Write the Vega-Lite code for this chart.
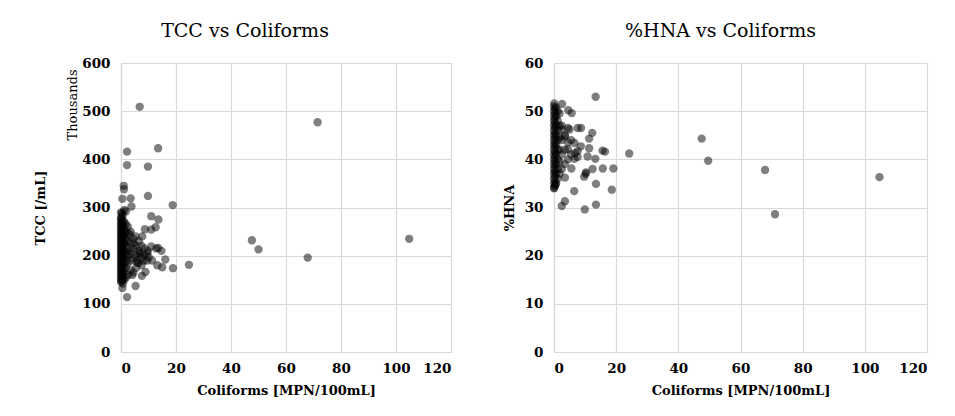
{
  "$schema": "https://vega.github.io/schema/vega-lite/v6.json",
  "padding": {"left": 34, "top": 22, "right": 5, "bottom": 5},
  "background": "white",
  "spacing": 52,
  "config": {
    "view": {"stroke": null},
    "font": "DejaVu Serif",
    "title": {"font": "DejaVu Serif", "fontSize": 19, "fontWeight": "normal", "color": "#000000"},
    "axis": {
      "grid": true,
      "gridColor": "#d9d9d9",
      "gridWidth": 1.2,
      "domainColor": "#d9d9d9",
      "domainWidth": 1.2,
      "ticks": false,
      "tickSize": 0,
      "labelFont": "DejaVu Serif",
      "labelFontWeight": "bold",
      "labelFontSize": 13.5,
      "labelColor": "#000000",
      "titleFont": "DejaVu Serif",
      "titleFontWeight": "bold",
      "titleFontSize": 13,
      "titleColor": "#000000"
    },
    "axisX": {"labelPadding": 9, "titlePadding": 10},
    "axisY": {"labelPadding": 11}
  },
  "datasets": {
    "tcc": [
      {"coliforms": 6.8, "tcc": 509}, {"coliforms": 71.5, "tcc": 477}, {"coliforms": 2.2, "tcc": 416}, {"coliforms": 13.5, "tcc": 423},
      {"coliforms": 2.2, "tcc": 388}, {"coliforms": 9.8, "tcc": 385}, {"coliforms": 1.0, "tcc": 345}, {"coliforms": 1.1, "tcc": 338},
      {"coliforms": 0.5, "tcc": 318}, {"coliforms": 3.5, "tcc": 319}, {"coliforms": 3.8, "tcc": 302}, {"coliforms": 9.8, "tcc": 324},
      {"coliforms": 18.8, "tcc": 305}, {"coliforms": 11.0, "tcc": 282}, {"coliforms": 13.6, "tcc": 275}, {"coliforms": 8.7, "tcc": 255},
      {"coliforms": 12.6, "tcc": 259}, {"coliforms": 11.0, "tcc": 254}, {"coliforms": 7.7, "tcc": 240}, {"coliforms": 47.6, "tcc": 232},
      {"coliforms": 104.8, "tcc": 235}, {"coliforms": 50.0, "tcc": 213}, {"coliforms": 67.9, "tcc": 196}, {"coliforms": 24.7, "tcc": 181},
      {"coliforms": 18.9, "tcc": 174}, {"coliforms": 16.1, "tcc": 192}, {"coliforms": 15.0, "tcc": 176}, {"coliforms": 13.2, "tcc": 180},
      {"coliforms": 14.7, "tcc": 210}, {"coliforms": 13.5, "tcc": 216}, {"coliforms": 12.8, "tcc": 215}, {"coliforms": 9.8, "tcc": 210},
      {"coliforms": 11.0, "tcc": 219}, {"coliforms": 7.6, "tcc": 158}, {"coliforms": 8.9, "tcc": 166}, {"coliforms": 5.3, "tcc": 137},
      {"coliforms": 4.1, "tcc": 160}, {"coliforms": 2.2, "tcc": 114}, {"coliforms": 0.5, "tcc": 133}, {"coliforms": 5.8, "tcc": 185},
      {"coliforms": 3.5, "tcc": 204}, {"coliforms": 5.3, "tcc": 240}, {"coliforms": 3.3, "tcc": 244}, {"coliforms": 4.6, "tcc": 225},
      {"coliforms": 7.1, "tcc": 205}, {"coliforms": 8.3, "tcc": 190}, {"coliforms": 10.1, "tcc": 197}, {"coliforms": 11.3, "tcc": 190},
      {"coliforms": 5.8, "tcc": 190},
      {"coliforms": 0, "tcc": 145}, {"coliforms": 0, "tcc": 150}, {"coliforms": 0, "tcc": 155}, {"coliforms": 0, "tcc": 160},
      {"coliforms": 0, "tcc": 165}, {"coliforms": 0, "tcc": 170}, {"coliforms": 0, "tcc": 175}, {"coliforms": 0, "tcc": 180},
      {"coliforms": 0, "tcc": 185}, {"coliforms": 0, "tcc": 190}, {"coliforms": 0, "tcc": 195}, {"coliforms": 0, "tcc": 200},
      {"coliforms": 0, "tcc": 205}, {"coliforms": 0, "tcc": 210}, {"coliforms": 0, "tcc": 215}, {"coliforms": 0, "tcc": 220},
      {"coliforms": 0, "tcc": 225}, {"coliforms": 0, "tcc": 230}, {"coliforms": 0, "tcc": 235}, {"coliforms": 0, "tcc": 240},
      {"coliforms": 0, "tcc": 245}, {"coliforms": 0, "tcc": 250}, {"coliforms": 0, "tcc": 255}, {"coliforms": 0, "tcc": 260},
      {"coliforms": 0, "tcc": 265}, {"coliforms": 0, "tcc": 270}, {"coliforms": 0, "tcc": 275}, {"coliforms": 0, "tcc": 280},
      {"coliforms": 0, "tcc": 290},
      {"coliforms": 0.3, "tcc": 148}, {"coliforms": 0.3, "tcc": 158}, {"coliforms": 0.3, "tcc": 168}, {"coliforms": 0.3, "tcc": 178},
      {"coliforms": 0.3, "tcc": 188}, {"coliforms": 0.3, "tcc": 198}, {"coliforms": 0.3, "tcc": 208}, {"coliforms": 0.3, "tcc": 218},
      {"coliforms": 0.3, "tcc": 228}, {"coliforms": 0.3, "tcc": 238}, {"coliforms": 0.3, "tcc": 248}, {"coliforms": 0.3, "tcc": 258},
      {"coliforms": 0.3, "tcc": 268}, {"coliforms": 0.3, "tcc": 278}, {"coliforms": 0.3, "tcc": 288},
      {"coliforms": 0.7, "tcc": 142}, {"coliforms": 0.7, "tcc": 152}, {"coliforms": 0.7, "tcc": 162}, {"coliforms": 0.7, "tcc": 172},
      {"coliforms": 0.7, "tcc": 182}, {"coliforms": 0.7, "tcc": 192}, {"coliforms": 0.7, "tcc": 202}, {"coliforms": 0.7, "tcc": 212},
      {"coliforms": 0.7, "tcc": 222}, {"coliforms": 0.7, "tcc": 232}, {"coliforms": 0.7, "tcc": 242}, {"coliforms": 0.7, "tcc": 252},
      {"coliforms": 0.7, "tcc": 262}, {"coliforms": 0.7, "tcc": 272}, {"coliforms": 0.7, "tcc": 285},
      {"coliforms": 1.2, "tcc": 150}, {"coliforms": 1.2, "tcc": 165}, {"coliforms": 1.2, "tcc": 180}, {"coliforms": 1.2, "tcc": 195},
      {"coliforms": 1.2, "tcc": 210}, {"coliforms": 1.2, "tcc": 225}, {"coliforms": 1.2, "tcc": 240}, {"coliforms": 1.2, "tcc": 255},
      {"coliforms": 1.2, "tcc": 270}, {"coliforms": 1.2, "tcc": 295},
      {"coliforms": 1.8, "tcc": 155}, {"coliforms": 1.8, "tcc": 175}, {"coliforms": 1.8, "tcc": 190}, {"coliforms": 1.8, "tcc": 205},
      {"coliforms": 1.8, "tcc": 220}, {"coliforms": 1.8, "tcc": 235}, {"coliforms": 1.8, "tcc": 250}, {"coliforms": 1.8, "tcc": 265},
      {"coliforms": 1.8, "tcc": 292},
      {"coliforms": 2.5, "tcc": 160}, {"coliforms": 2.5, "tcc": 185}, {"coliforms": 2.5, "tcc": 200}, {"coliforms": 2.5, "tcc": 215},
      {"coliforms": 2.5, "tcc": 230}, {"coliforms": 2.5, "tcc": 245}, {"coliforms": 2.5, "tcc": 260},
      {"coliforms": 3.5, "tcc": 170}, {"coliforms": 3.5, "tcc": 190}, {"coliforms": 3.5, "tcc": 210}, {"coliforms": 3.5, "tcc": 228},
      {"coliforms": 3.5, "tcc": 250},
      {"coliforms": 4.5, "tcc": 165}, {"coliforms": 4.5, "tcc": 195}, {"coliforms": 4.5, "tcc": 215}, {"coliforms": 4.5, "tcc": 235},
      {"coliforms": 5.5, "tcc": 175}, {"coliforms": 5.5, "tcc": 200}, {"coliforms": 5.5, "tcc": 220},
      {"coliforms": 6.5, "tcc": 185}, {"coliforms": 6.5, "tcc": 210}, {"coliforms": 6.5, "tcc": 230}, {"coliforms": 6.5, "tcc": 205},
      {"coliforms": 7.5, "tcc": 195}, {"coliforms": 7.5, "tcc": 220}, {"coliforms": 7.5, "tcc": 180},
      {"coliforms": 8.5, "tcc": 200}, {"coliforms": 8.5, "tcc": 215}, {"coliforms": 9.5, "tcc": 190}, {"coliforms": 9.5, "tcc": 205}
    ],
    "hna": [
      {"coliforms": 13.4, "hna": 53.0}, {"coliforms": 47.5, "hna": 44.3}, {"coliforms": 49.6, "hna": 39.7}, {"coliforms": 67.9, "hna": 37.8},
      {"coliforms": 104.7, "hna": 36.3}, {"coliforms": 71.1, "hna": 28.6}, {"coliforms": 24.2, "hna": 41.2}, {"coliforms": 19.1, "hna": 38.1},
      {"coliforms": 18.6, "hna": 33.7}, {"coliforms": 16.4, "hna": 41.6}, {"coliforms": 15.6, "hna": 41.8}, {"coliforms": 15.7, "hna": 38.1},
      {"coliforms": 13.5, "hna": 34.9}, {"coliforms": 13.5, "hna": 30.6}, {"coliforms": 9.9, "hna": 29.6}, {"coliforms": 12.3, "hna": 45.5},
      {"coliforms": 11.3, "hna": 44.3}, {"coliforms": 12.4, "hna": 38.0}, {"coliforms": 13.3, "hna": 40.1}, {"coliforms": 11.3, "hna": 42.3},
      {"coliforms": 10.8, "hna": 40.6}, {"coliforms": 10.2, "hna": 37.0}, {"coliforms": 9.7, "hna": 36.4}, {"coliforms": 8.7, "hna": 46.5},
      {"coliforms": 7.6, "hna": 46.5}, {"coliforms": 6.5, "hna": 33.4}, {"coliforms": 3.5, "hna": 31.3}, {"coliforms": 2.5, "hna": 30.3},
      {"coliforms": 5.7, "hna": 49.6}, {"coliforms": 4.6, "hna": 50.2}, {"coliforms": 2.6, "hna": 51.5}, {"coliforms": 3.5, "hna": 36.2},
      {"coliforms": 5.6, "hna": 38.1}, {"coliforms": 6.6, "hna": 40.1}, {"coliforms": 7.6, "hna": 41.7}, {"coliforms": 8.6, "hna": 42.7},
      {"coliforms": 4.5, "hna": 42.1}, {"coliforms": 3.5, "hna": 44.8}, {"coliforms": 2.5, "hna": 46.2}, {"coliforms": 5.0, "hna": 46.2},
      {"coliforms": 6.6, "hna": 43.4}, {"coliforms": 7.6, "hna": 40.5}, {"coliforms": 10.3, "hna": 37.3}, {"coliforms": 6.8, "hna": 41.3},
      {"coliforms": 0.1, "hna": 34.1}, {"coliforms": 0.5, "hna": 34.8}, {"coliforms": 0.1, "hna": 51.6},
      {"coliforms": 0, "hna": 34}, {"coliforms": 0, "hna": 35}, {"coliforms": 0, "hna": 36}, {"coliforms": 0, "hna": 37},
      {"coliforms": 0, "hna": 38}, {"coliforms": 0, "hna": 39}, {"coliforms": 0, "hna": 40}, {"coliforms": 0, "hna": 41},
      {"coliforms": 0, "hna": 42}, {"coliforms": 0, "hna": 43}, {"coliforms": 0, "hna": 44}, {"coliforms": 0, "hna": 45},
      {"coliforms": 0, "hna": 46}, {"coliforms": 0, "hna": 47}, {"coliforms": 0, "hna": 48}, {"coliforms": 0, "hna": 49},
      {"coliforms": 0, "hna": 50}, {"coliforms": 0, "hna": 51},
      {"coliforms": 0.3, "hna": 34.5}, {"coliforms": 0.3, "hna": 35.5}, {"coliforms": 0.3, "hna": 36.5}, {"coliforms": 0.3, "hna": 37.5},
      {"coliforms": 0.3, "hna": 38.5}, {"coliforms": 0.3, "hna": 39.5}, {"coliforms": 0.3, "hna": 40.5}, {"coliforms": 0.3, "hna": 41.5},
      {"coliforms": 0.3, "hna": 42.5}, {"coliforms": 0.3, "hna": 43.5}, {"coliforms": 0.3, "hna": 44.5}, {"coliforms": 0.3, "hna": 45.5},
      {"coliforms": 0.3, "hna": 46.5}, {"coliforms": 0.3, "hna": 47.5}, {"coliforms": 0.3, "hna": 48.5}, {"coliforms": 0.3, "hna": 49.5},
      {"coliforms": 0.3, "hna": 50.5},
      {"coliforms": 0.7, "hna": 35}, {"coliforms": 0.7, "hna": 37}, {"coliforms": 0.7, "hna": 39}, {"coliforms": 0.7, "hna": 41},
      {"coliforms": 0.7, "hna": 43}, {"coliforms": 0.7, "hna": 45}, {"coliforms": 0.7, "hna": 47}, {"coliforms": 0.7, "hna": 49},
      {"coliforms": 0.7, "hna": 50.8},
      {"coliforms": 1.2, "hna": 36}, {"coliforms": 1.2, "hna": 38}, {"coliforms": 1.2, "hna": 40}, {"coliforms": 1.2, "hna": 42},
      {"coliforms": 1.2, "hna": 44}, {"coliforms": 1.2, "hna": 46}, {"coliforms": 1.2, "hna": 48}, {"coliforms": 1.2, "hna": 50},
      {"coliforms": 1.8, "hna": 37}, {"coliforms": 1.8, "hna": 39.5}, {"coliforms": 1.8, "hna": 42}, {"coliforms": 1.8, "hna": 44.5},
      {"coliforms": 1.8, "hna": 47}, {"coliforms": 1.8, "hna": 49.5},
      {"coliforms": 2.5, "hna": 38}, {"coliforms": 2.5, "hna": 41}, {"coliforms": 2.5, "hna": 44}, {"coliforms": 2.5, "hna": 47},
      {"coliforms": 3.5, "hna": 39}, {"coliforms": 3.5, "hna": 42}, {"coliforms": 3.5, "hna": 45},
      {"coliforms": 4.5, "hna": 40}, {"coliforms": 4.5, "hna": 43.5}, {"coliforms": 4.5, "hna": 46.5},
      {"coliforms": 5.5, "hna": 41}, {"coliforms": 5.5, "hna": 44}
    ]
  },
  "hconcat": [
    {
      "width": 330,
      "height": 289,
      "title": {"text": "TCC vs Coliforms", "dx": -41, "offset": 15},
      "layer": [
        {
          "data": {"name": "tcc"},
          "mark": {"type": "circle", "size": 70, "color": "#000000", "opacity": 0.5},
          "encoding": {
            "x": {"field": "coliforms", "type": "quantitative", "scale": {"domain": [0, 120], "nice": false},
                  "axis": {"values": [0, 20, 40, 60, 80, 100, 120], "title": "Coliforms [MPN/100mL]"}},
            "y": {"field": "tcc", "type": "quantitative", "scale": {"domain": [0, 600], "nice": false},
                  "axis": {"values": [0, 100, 200, 300, 400, 500, 600], "title": "TCC [/mL]", "titlePadding": 34}}
          }
        },
        {
          "data": {"values": [{"label": "Thousands", "xpos": -17.5, "ypos": 513}]},
          "mark": {"type": "text", "angle": 270, "font": "DejaVu Serif", "fontSize": 13, "fontWeight": "normal", "color": "#000000", "align": "center", "baseline": "middle"},
          "encoding": {
            "x": {"field": "xpos", "type": "quantitative", "scale": {"domain": [0, 120], "nice": false}},
            "y": {"field": "ypos", "type": "quantitative", "scale": {"domain": [0, 600], "nice": false}},
            "text": {"field": "label"}
          }
        }
      ]
    },
    {
      "width": 373,
      "height": 289,
      "title": {"text": "%HNA vs Coliforms", "dx": -20, "offset": 15},
      "data": {"name": "hna"},
      "mark": {"type": "circle", "size": 70, "color": "#000000", "opacity": 0.5},
      "encoding": {
        "x": {"field": "coliforms", "type": "quantitative", "scale": {"domain": [0, 120], "nice": false},
              "axis": {"values": [0, 20, 40, 60, 80, 100, 120], "title": "Coliforms [MPN/100mL]"}},
        "y": {"field": "hna", "type": "quantitative", "scale": {"domain": [0, 60], "nice": false},
              "axis": {"values": [0, 10, 20, 30, 40, 50, 60], "title": "%HNA", "titlePadding": 8}}
      }
    }
  ]
}
